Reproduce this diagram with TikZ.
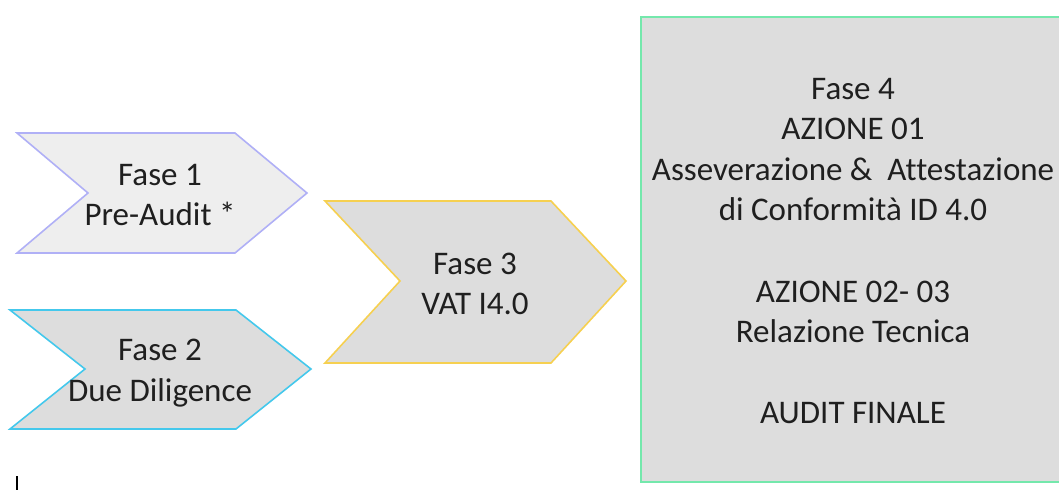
\documentclass[tikz,border=0pt]{standalone}
\usepackage{fontspec}
\setmainfont[Ligatures=NoCommon]{Carlito}
\definecolor{grigio}{HTML}{DDDDDD}
\definecolor{grigiochiaro}{HTML}{EEEEEE}
\definecolor{lilla}{HTML}{B0B0F6}
\definecolor{azzurro}{HTML}{44C8EC}
\definecolor{giallo}{HTML}{F6D050}
\definecolor{verde}{HTML}{74E8AC}
\tikzset{
  chevron/.style={line width=0.8pt, line join=miter, fill=grigio},
  fasetext/.style={align=center, text=black!88, inner sep=0pt,
    font=\fontsize{16.5}{20.3}\selectfont}
}
\begin{document}
\begin{tikzpicture}[x=0.5pt, y=-0.5pt]
    \useasboundingbox (0,0) rectangle (1059,494);
    \draw[chevron, draw=lilla, fill=grigiochiaro] (17,133) -- (235,133) -- (307,193) -- (235,253) -- (17,253) -- (88,193) -- cycle;
    \draw[chevron, draw=azzurro] (10,310) -- (236,310) -- (311,369) -- (236,429) -- (10,429) -- (85,369) -- cycle;
    \draw[chevron, draw=giallo] (325,201) -- (551,201) -- (626,281) -- (551,363) -- (325,363) -- (400,281) -- cycle;
    \draw[chevron, draw=verde] (641,17) rectangle (1066,482);
    \node[fasetext] (f1) at (160,195) {Fase 1\\Pre-Audit *};
    \node[fasetext] (f2) at (160,373) {Fase 2\\Due Diligence};
    \node[fasetext] (f3) at (475,284) {Fase 3\\VAT I4.0};
    \node[fasetext] (f4) at (853,251) {Fase 4\\AZIONE 01\\Asseverazione \&\ \ Attestazione\\di Conformità ID 4.0\\[20.3pt]AZIONE 02- 03\\Relazione Tecnica\\[20.3pt]AUDIT FINALE};
    \draw[line width=0.6pt] (17,476) -- (17,490);
\end{tikzpicture}
\end{document}
